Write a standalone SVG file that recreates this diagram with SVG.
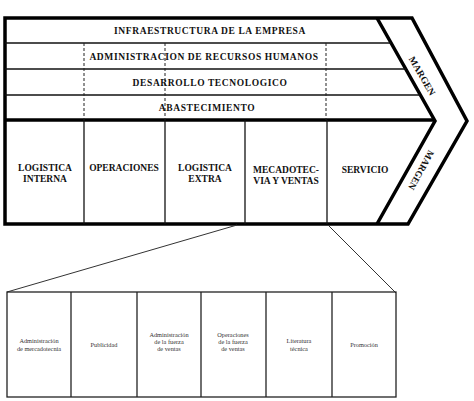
<svg xmlns="http://www.w3.org/2000/svg" width="474" height="401" viewBox="0 0 474 401">
<style>
.thick{fill:none;stroke:#000;stroke-width:3.5;stroke-linejoin:miter}
.thin{fill:none;stroke:#111;stroke-width:1.3}
.dash{fill:none;stroke:#222;stroke-width:1;stroke-dasharray:3 2}
.cell{fill:none;stroke:#222;stroke-width:1.3}
.t{font-family:"Liberation Serif","Times New Roman",serif;font-weight:bold;font-size:9.5px;fill:#111;text-anchor:middle}
.w{letter-spacing:0.6px}
.s{font-family:"Liberation Serif","Times New Roman",serif;font-size:6.3px;fill:#333;text-anchor:middle}
.conn{fill:none;stroke:#333;stroke-width:1}
</style>
<rect width="474" height="401" fill="#fff"/>
<g id="frame">
<path class="thick" d="M5,18 L412,18 L467,121 L408,224 L5,224 Z"/>
<path class="thick" d="M377,18 L435,121 L377,224"/>
<line class="thick" x1="5" y1="120" x2="435" y2="120"/>
<line class="thin" x1="5" y1="43" x2="391" y2="43"/>
<line class="thin" x1="5" y1="69" x2="406" y2="69"/>
<line class="thin" x1="5" y1="95" x2="420" y2="95"/>
<line class="dash" x1="84" y1="43" x2="84" y2="120"/>
<line class="dash" x1="165" y1="43" x2="165" y2="120"/>
<line class="dash" x1="326" y1="43" x2="326" y2="120"/>
<line class="thin" x1="84" y1="120" x2="84" y2="224"/>
<line class="thin" x1="165" y1="120" x2="165" y2="224"/>
<line class="thin" x1="245" y1="120" x2="245" y2="224"/>
<line class="thin" x1="327" y1="120" x2="327" y2="224"/>
</g>
<g id="infraestructura"><text class="t w" x="210" y="34">INFRAESTRUCTURA DE LA EMPRESA</text></g>
<g id="rrhh"><text class="t w" x="204" y="60">ADMINISTRACION DE RECURSOS HUMANOS</text></g>
<g id="tecnologia"><text class="t w" x="210" y="86">DESARROLLO TECNOLOGICO</text></g>
<g id="abastecimiento"><text class="t w" x="207" y="111">ABASTECIMIENTO</text></g>
<g id="margen-sup"><text class="t" transform="translate(422,76) rotate(60)" y="3" font-size="8.5">MARGEN</text></g>
<g id="margen-inf"><text class="t" transform="translate(421,170) rotate(119)" y="3" font-size="8.5">MARGEN</text></g>
<g id="logistica-interna"><text class="t" x="45" y="171">LOGISTICA</text><text class="t" x="45" y="182">INTERNA</text></g>
<g id="operaciones"><text class="t" x="124" y="171">OPERACIONES</text></g>
<g id="logistica-extra"><text class="t" x="205" y="171">LOGISTICA</text><text class="t" x="205" y="182">EXTRA</text></g>
<g id="mercadotecnia"><text class="t" x="286" y="173">MECADOTEC-</text><text class="t" x="286" y="184">VIA Y VENTAS</text></g>
<g id="servicio"><text class="t" x="365" y="173">SERVICIO</text></g>
<g id="connectors">
<line class="conn" x1="237" y1="225" x2="7" y2="292"/>
<line class="conn" x1="328" y1="225" x2="396" y2="293"/>
</g>
<g id="detalle">
<rect class="cell" x="7" y="292" width="389" height="105"/>
<line class="cell" x1="71" y1="292" x2="71" y2="397"/>
<line class="cell" x1="137" y1="292" x2="137" y2="397"/>
<line class="cell" x1="201" y1="292" x2="201" y2="397"/>
<line class="cell" x1="266" y1="292" x2="266" y2="397"/>
<line class="cell" x1="332" y1="292" x2="332" y2="397"/>
</g>
<g id="adm-mercadotecnia"><text class="s" x="39" y="343">Administración</text><text class="s" x="39" y="351">de mercadotecnia</text></g>
<g id="publicidad"><text class="s" x="104" y="347">Publicidad</text></g>
<g id="adm-fuerza"><text class="s" x="169" y="337">Administración</text><text class="s" x="169" y="344">de la fuerza</text><text class="s" x="169" y="351">de ventas</text></g>
<g id="op-fuerza"><text class="s" x="233" y="337">Operaciones</text><text class="s" x="233" y="344">de la fuerza</text><text class="s" x="233" y="351">de ventas</text></g>
<g id="literatura"><text class="s" x="299" y="343">Literatura</text><text class="s" x="299" y="351">técnica</text></g>
<g id="promocion"><text class="s" x="364" y="347">Promoción</text></g>
</svg>
